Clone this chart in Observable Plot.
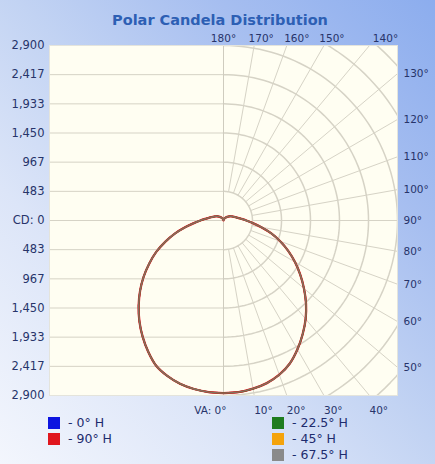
<!DOCTYPE html>
<html>
<head>
<meta charset="utf-8">
<script src="https://cdn.jsdelivr.net/npm/d3@7"></script>
<script src="https://cdn.jsdelivr.net/npm/@observablehq/plot@0.6"></script>
<style>
html, body { margin: 0; padding: 0; background: #fff; }
#wrap {
  position: relative; width: 435px; height: 464px; overflow: hidden;
  background: linear-gradient(to top right, #f3f6fd 0%, #dce5f8 30%, #c2d3f3 52%, #a6bef0 75%, #8cadee 100%);
  font-family: "DejaVu Sans", sans-serif;
}
#title {
  position: absolute; left: 0; top: 11px; width: 440px; text-align: center;
  font-family: "DejaVu Sans", sans-serif; font-weight: bold; font-size: 14.5px;
  color: #2d5fb4; line-height: 18px;
}
#chart { position: absolute; left: 0; top: 30px; }
.lcol { position: absolute; top: 415px; }
.litem { height: 16px; display: flex; align-items: center; font-size: 12.5px; line-height: 14px; color: #1e2c6e; white-space: nowrap; }
.sw { width: 12px; height: 12px; margin-right: 8px; flex: none; }
</style>
</head>
<body>
<div id="wrap">
  <div id="title">Polar Candela Distribution</div>
  <div id="chart"></div>
</div>
<script>
// ---- data ----
const vAngles = [0,5,10,15,20,25,30,35,40,45,50,55,60,65,70,75,80,85,90,95,100,105,110,115,120,125,130,135,140,145,150,155,160,165,170,175,180];
// candela, left half of the polar plot
const cdLeft  = [2860,2855,2835,2800,2740,2655,2510,2350,2180,2000,1815,1625,1430,1240,1035,840,650,495,385,305,250,210,180,160,140,120,100,85,70,55,45,35,25,18,10,6,4];
// candela, right half of the polar plot
const cdRight = [2860,2855,2830,2790,2720,2615,2465,2300,2130,1945,1750,1560,1375,1190,1005,825,640,490,380,300,245,210,180,160,140,120,100,85,70,55,45,35,25,18,10,6,4];

const planes      = ["0° H", "22.5° H", "45° H", "67.5° H", "90° H"];
const planeColors = ["#0c14e0", "#1f7d1f", "#f4a30c", "#8a8a8a", "#e0161e"];
const drawOrder   = ["0° H", "45° H", "90° H", "22.5° H", "67.5° H"];
const legendCols  = [["0° H", "90° H"], ["22.5° H", "45° H", "67.5° H"]];

const cdTickValues = [2900, 2417, 1933, 1450, 967, 483, 0, -483, -967, -1450, -1933, -2417, -2900];
const cdTickLabels = ["2,900","2,417","1,933","1,450","967","483","CD: 0","483","967","1,450","1,933","2,417","2,900"];
const arcRadii     = [483, 967, 1450, 1933, 2417, 2900, 3383, 3867];
const radialAngles = [0,10,20,30,40,50,60,70,80,90,100,110,120,130,140,150,160,170,180];

const topAngles    = [180, 170, 160, 150, 140];
const topLabels    = ["180°", "170°", "160°", "150°", "140°"];
const topShift     = [0, 7, 10, 8, 16];
const rightAngles  = [130, 120, 110, 100, 90, 80, 70, 60, 50];
const rightLabels  = ["130°", "120°", "110°", "100°", "90°", "80°", "70°", "60°", "50°"];
const bottomAngles = [0, 10, 20, 30, 40];
const bottomLabels = ["VA: 0°", "10°", "20°", "30°", "40°"];

// ---- build tables ----
const LIM = 2900;
const rad = d => d * Math.PI / 180;
const gridColor = "#d6d3c6";
const labelColor = "#27346a";

const arcPts = [];
for (const r of arcRadii) {
  for (let t = 0; t <= 180; t += 2) arcPts.push({r, x: r * Math.sin(rad(t)), y: -r * Math.cos(rad(t))});
}
const radials = radialAngles.map(a => ({
  x1: arcRadii[0] * Math.sin(rad(a)), y1: -arcRadii[0] * Math.cos(rad(a)),
  x2: 4500 * Math.sin(rad(a)), y2: -4500 * Math.cos(rad(a))
}));

function curvePoints(plane) {
  const pts = [];
  for (let i = vAngles.length - 1; i >= 0; i--) {
    const a = rad(vAngles[i]);
    pts.push({plane, x: -cdLeft[i] * Math.sin(a), y: -cdLeft[i] * Math.cos(a)});
  }
  for (let i = 0; i < vAngles.length; i++) {
    const a = rad(vAngles[i]);
    pts.push({plane, x: cdRight[i] * Math.sin(a), y: -cdRight[i] * Math.cos(a)});
  }
  return pts;
}

const yLab = cdTickValues.map((v, i) => ({v, t: cdTickLabels[i]}));
const topLab = topAngles.map((a, i) => ({x: LIM * Math.tan(rad(180 - a)), t: topLabels[i], s: topShift[i]}));
const rightLab = rightAngles.map((a, i) => ({y: -LIM / Math.tan(rad(a)), t: rightLabels[i]}));
const bottomLab = bottomAngles.map((a, i) => ({x: LIM * Math.tan(rad(a)), t: bottomLabels[i], a}));

const lineStyle = {
  "0° H":    {w: 1.6, o: 1},
  "45° H":   {w: 1.6, o: 1},
  "90° H":   {w: 2.3, o: 1},
  "22.5° H": {w: 1.5, o: 0.55},
  "67.5° H": {w: 1.4, o: 0.6}
};
const curveMarks = drawOrder.map(p => {
  const c = planeColors[planes.indexOf(p)];
  return Plot.line(curvePoints(p), {x: "x", y: "y", stroke: c, strokeWidth: lineStyle[p].w, strokeOpacity: lineStyle[p].o, curve: "catmull-rom"});
});

const txt = {fill: labelColor, fontSize: 10.5, fontFamily: "DejaVu Sans"};

const chart = Plot.plot({
  width: 435, height: 386,
  marginLeft: 49, marginRight: 38, marginTop: 15, marginBottom: 21,
  x: {domain: [-LIM, LIM], axis: null},
  y: {domain: [-LIM, LIM], axis: null},
  style: {background: "transparent", overflow: "visible", fontFamily: "DejaVu Sans"},
  marks: [
    Plot.frame({fill: "#fffef2", stroke: "none"}),
    Plot.ruleY(cdTickValues, {x1: -LIM, x2: 0, stroke: gridColor}),
    Plot.line(arcPts, {x: "x", y: "y", z: "r", stroke: gridColor, clip: true}),
    Plot.link(radials, {x1: "x1", y1: "y1", x2: "x2", y2: "y2", stroke: gridColor, clip: true}),
    Plot.ruleX([0], {stroke: "#cfccbf"}),
    Plot.frame({stroke: "#e4e4dc"}),
    ...curveMarks,
    Plot.text(yLab, {x: -LIM, y: "v", text: "t", textAnchor: "end", dx: -5, ...txt, fontSize: 11.5}),
    ...topLab.map(d => Plot.text([d], {x: "x", y: LIM, text: "t", textAnchor: "middle", dx: d.s, dy: -7, ...txt})),
    Plot.text(rightLab, {x: LIM, y: "y", text: "t", textAnchor: "start", dx: 6, ...txt}),
    Plot.text(bottomLab.filter(d => d.a === 0), {x: "x", y: -LIM, text: "t", textAnchor: "end", dx: 3, dy: 15, ...txt}),
    Plot.text(bottomLab.filter(d => d.a !== 0), {x: "x", y: -LIM, text: "t", textAnchor: "start", dx: 0, dy: 15, ...txt})
  ]
});
document.getElementById("chart").appendChild(chart);

// ---- legend ----
const wrap = document.getElementById("wrap");
const colLeft = [48, 272];
legendCols.forEach((col, ci) => {
  const div = document.createElement("div");
  div.className = "lcol";
  div.style.left = colLeft[ci] + "px";
  col.forEach(p => {
    const it = document.createElement("div");
    it.className = "litem";
    const sw = document.createElement("span");
    sw.className = "sw";
    sw.style.background = planeColors[planes.indexOf(p)];
    const tx = document.createElement("span");
    tx.textContent = "- " + p;
    it.appendChild(sw); it.appendChild(tx);
    div.appendChild(it);
  });
  wrap.appendChild(div);
});
</script>
</body>
</html>
